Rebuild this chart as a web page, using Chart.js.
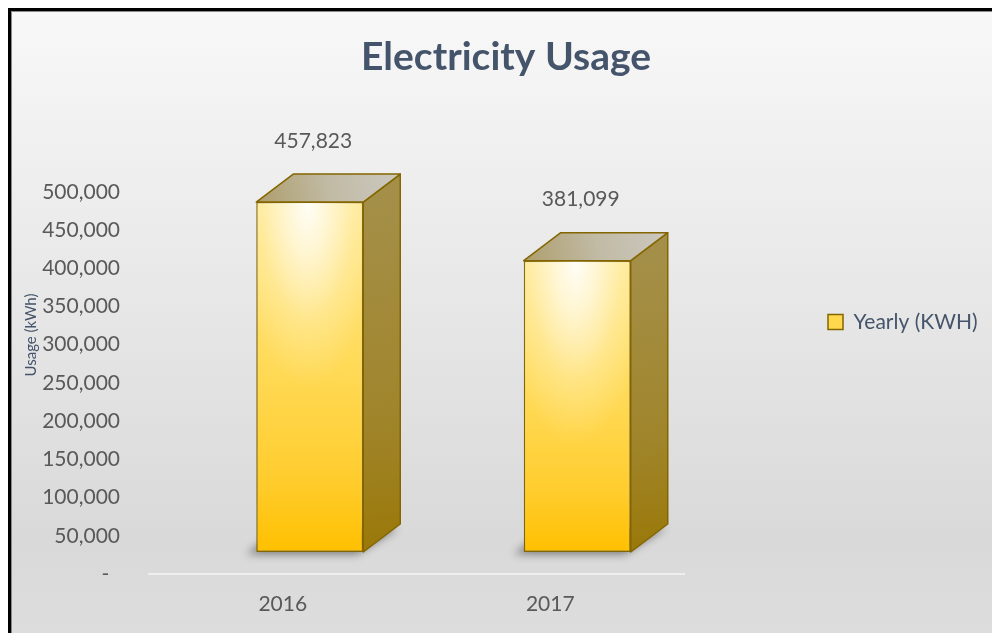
<!DOCTYPE html>
<html>
<head>
<meta charset="utf-8">
<script src="https://cdn.jsdelivr.net/npm/chart.js@4/dist/chart.umd.min.js"></script>
<style>
  html, body { margin: 0; padding: 0; background: #fff; }
  canvas { display: block; }
</style>
</head>
<body>
<canvas id="c" width="992" height="633"></canvas>
<script>
const chartTitle = 'Electricity Usage';
const yAxisTitle = 'Usage (kWh)';
const seriesName = 'Yearly (KWH)';
const categories = ['2016', '2017'];
const usageValues = [457823, 381099];
const yTickLabels = ['-', '50,000', '100,000', '150,000', '200,000', '250,000',
                     '300,000', '350,000', '400,000', '450,000', '500,000'];

const FONT = 'Lato, "Open Sans", sans-serif';
const TEXT = '#595959';
const SLATE = '#44546A';
const OX = 27, OY = -22;     // front-face offset of the 3D bars
const DX = 37, DY = -28;     // depth of the 3D bars
const LEGEND_W = 308;        // legend column width (right side)

const bgPlugin = {
  id: 'bg',
  beforeDraw(chart) {
    const { ctx, width, height } = chart;
    ctx.save();
    ctx.fillStyle = '#ffffff';
    ctx.fillRect(0, 0, width, height);
    const g = ctx.createLinearGradient(0, 11, 0, height);
    g.addColorStop(0, '#f8f8f8');
    g.addColorStop(0.85, '#d9d9d9');
    g.addColorStop(1, '#dddddd');
    ctx.fillStyle = g;
    ctx.fillRect(11, 11, width - 11, height - 11);
    ctx.fillStyle = '#000000';
    ctx.fillRect(8, 8, width - 8, 3);
    ctx.fillRect(8, 8, 3, height - 8);
    ctx.fillStyle = '#8a8a8a';
    ctx.fillRect(11, 11, width - 11, 1);
    ctx.fillRect(11, 11, 1, height - 11);
    ctx.restore();
  },
  afterDraw(chart) {
    const ctx = chart.ctx;
    ctx.save();
    ctx.translate(31, 335);
    ctx.rotate(-Math.PI / 2);
    ctx.font = '15px ' + FONT;
    ctx.fillStyle = SLATE;
    ctx.textAlign = 'center';
    ctx.textBaseline = 'middle';
    ctx.fillText(yAxisTitle, 0, 0);
    ctx.restore();
  }
};

// give the right-hand legend a fixed column width
const legendWidthPlugin = {
  id: 'legendWidth',
  beforeLayout(chart) {
    const lg = chart.legend;
    if (lg && !lg.__fixedWidth) {
      const fit = lg.fit;
      lg.fit = function () { fit.call(this); this.width = LEGEND_W; };
      lg.__fixedWidth = true;
    }
  }
};

const bar3dPlugin = {
  id: 'bar3d',
  beforeDatasetDraw(chart, args) {
    const ctx = chart.ctx;
    ctx.save();
    ctx.translate(OX, OY);
    const meta = chart.getDatasetMeta(args.index);
    meta.data.forEach(el => {
      const { x, y, base, width } = el.getProps(['x', 'y', 'base', 'width'], true);
      const l = x - width / 2, r = x + width / 2;
      // soft floor shadow
      ctx.save();
      ctx.filter = 'blur(4px)';
      ctx.fillStyle = 'rgba(0,0,0,0.45)';
      ctx.beginPath();
      ctx.moveTo(l - 10, base + 2);
      ctx.lineTo(r - 6, base + 2);
      ctx.lineTo(r + DX - 2, base + DY + 4);
      ctx.lineTo(l + DX - 10, base + DY + 4);
      ctx.closePath();
      ctx.fill();
      ctx.restore();
      ctx.strokeStyle = '#846600';
      ctx.lineWidth = 1.5;
      ctx.lineJoin = 'round';
      // side face
      const sg = ctx.createLinearGradient(r, y, r + DX, base);
      sg.addColorStop(0, '#a48f48');
      sg.addColorStop(0.6, '#a0852c');
      sg.addColorStop(1, '#9a7808');
      ctx.fillStyle = sg;
      ctx.beginPath();
      ctx.moveTo(r, y);
      ctx.lineTo(r + DX, y + DY);
      ctx.lineTo(r + DX, base + DY);
      ctx.lineTo(r, base);
      ctx.closePath();
      ctx.fill();
      ctx.stroke();
      // top face
      const tg = ctx.createLinearGradient(l, y, r + DX, y + DY);
      tg.addColorStop(0, '#ad9e6c');
      tg.addColorStop(0.5, '#c1baa4');
      tg.addColorStop(1, '#cbc8c0');
      ctx.fillStyle = tg;
      ctx.beginPath();
      ctx.moveTo(l, y);
      ctx.lineTo(r, y);
      ctx.lineTo(r + DX, y + DY);
      ctx.lineTo(l + DX, y + DY);
      ctx.closePath();
      ctx.fill();
      ctx.stroke();
    });
  },
  afterDatasetDraw(chart, args) {
    const ctx = chart.ctx;
    const meta = chart.getDatasetMeta(args.index);
    // soft highlight on the front faces
    meta.data.forEach(el => {
      const { x, y, base, width } = el.getProps(['x', 'y', 'base', 'width'], true);
      const h = base - y;
      ctx.save();
      ctx.beginPath();
      ctx.rect(x - width / 2 + 1, y + 1, width - 2, h - 2);
      ctx.clip();
      ctx.translate(x - 2, y + 2);
      ctx.scale(1, 2.6);
      const rx = width * 0.66;
      const rg = ctx.createRadialGradient(0, 0, 0, 0, 0, rx);
      rg.addColorStop(0, 'rgba(255,255,255,0.92)');
      rg.addColorStop(0.3, 'rgba(255,255,255,0.62)');
      rg.addColorStop(0.65, 'rgba(255,255,255,0.22)');
      rg.addColorStop(1, 'rgba(255,255,255,0)');
      ctx.fillStyle = rg;
      ctx.fillRect(-rx, -rx, rx * 2, rx * 2);
      ctx.restore();
    });
    ctx.restore();
    const ds = chart.data.datasets[args.index];
    ctx.save();
    ctx.font = '21px ' + FONT;
    ctx.fillStyle = TEXT;
    ctx.textAlign = 'center';
    ctx.textBaseline = 'middle';
    meta.data.forEach((el, i) => {
      const { x, y } = el.getProps(['x', 'y'], true);
      ctx.fillText(ds.data[i].toLocaleString('en-US'), x + OX + 3.5, y + OY - 61);
    });
    ctx.restore();
  }
};

function frontFill(c) {
  const chart = c.chart;
  const ys = chart.scales.y;
  if (!chart.chartArea || !ys || c.dataIndex === undefined) return '#ffd54a';
  const y = ys.getPixelForValue(c.raw);
  const b = ys.getPixelForValue(0);
  const g = chart.ctx.createLinearGradient(0, y, 0, b);
  g.addColorStop(0, '#ffe88c');
  g.addColorStop(0.45, '#ffdb5a');
  g.addColorStop(0.8, '#ffcc2c');
  g.addColorStop(1, '#ffc000');
  return g;
}

new Chart(document.getElementById('c'), {
  type: 'bar',
  data: {
    labels: categories,
    datasets: [{
      label: seriesName,
      data: usageValues,
      backgroundColor: frontFill,
      borderColor: '#846600',
      borderWidth: 1.5,
      borderSkipped: false,
      categoryPercentage: 1,
      barPercentage: 0.4
    }]
  },
  options: {
    responsive: false,
    devicePixelRatio: 1,
    animation: false,
    events: [],
    layout: { padding: { left: 20, right: 0, top: 28, bottom: 17 } },
    plugins: {
      title: {
        display: true,
        text: chartTitle,
        color: SLATE,
        font: { family: FONT, size: 39, weight: 'bold' },
        padding: { top: 6, bottom: 111 }
      },
      legend: {
        display: true,
        position: 'right',
        labels: {
          font: { family: FONT, size: 21 },
          color: SLATE,
          boxWidth: 15,
          boxHeight: 15,
          padding: 144,
          generateLabels: () => [{
            text: seriesName,
            fillStyle: '#ffd84d',
            strokeStyle: '#846600',
            lineWidth: 1.5,
            fontColor: SLATE,
            datasetIndex: 0,
            hidden: false
          }]
        }
      },
      tooltip: { enabled: false }
    },
    scales: {
      x: {
        grid: { display: false },
        border: { display: true, color: 'rgba(255,255,255,0.55)', width: 2 },
        afterFit: s => { s.height = 42; },
        ticks: { font: { family: FONT, size: 21 }, color: TEXT, padding: 9.5 }
      },
      y: {
        min: 0,
        max: 500000,
        grid: { display: false, drawTicks: false },
        border: { display: false },
        afterFit: s => { s.width = 129; },
        ticks: {
          stepSize: 50000,
          font: { family: FONT, size: 21 },
          color: TEXT,
          padding: 29,
          callback: (v, i) => i === 0 ? yTickLabels[0] + '  ' : yTickLabels[i]
        }
      }
    }
  },
  plugins: [bgPlugin, legendWidthPlugin, bar3dPlugin]
});
</script>
</body>
</html>
